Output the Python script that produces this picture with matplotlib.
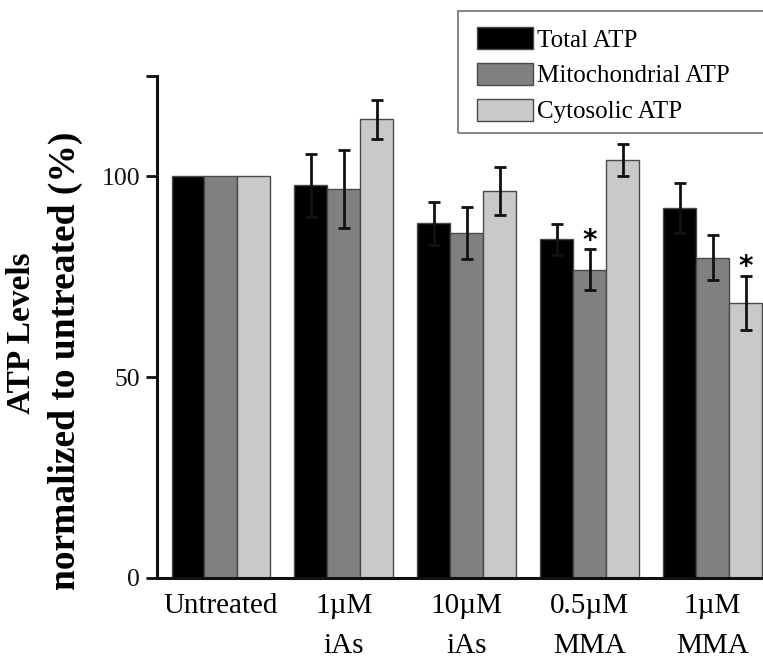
import matplotlib
matplotlib.use('Agg')
import matplotlib.pyplot as plt
import numpy as np
from matplotlib.patches import Rectangle

plt.rcParams['font.family'] = ['Liberation Serif', 'DejaVu Serif']

groups = ['Untreated', '1µM\niAs', '10µM\niAs', '0.5µM\nMMA', '1µM\nMMA']
series = ['Total ATP', 'Mitochondrial ATP', 'Cytosolic ATP']
total_atp = [100, 97.8, 88.3, 84.3, 92.2]
total_err = [0, 7.9, 5.3, 3.8, 6.2]
mito_atp = [100, 96.9, 86.0, 76.8, 79.7]
mito_err = [0, 9.7, 6.5, 5.0, 5.6]
cyto_atp = [100, 114.2, 96.3, 104.1, 68.5]
cyto_err = [0, 4.8, 6.0, 4.0, 6.7]
# (group index, series index) marked significant
signif = [(3, 1), (4, 2)]

colors = ['#000000', '#808080', '#c9c9c9']
width = 0.268

W, H = 763, 662
fig = plt.figure(figsize=(W / 100, H / 100), dpi=100)
ax = fig.add_axes([157 / W, 1 - 578 / H, 1 - 157 / W, (578 - 76) / H])

x = np.arange(len(groups))
values = [total_atp, mito_atp, cyto_atp]
errors = [total_err, mito_err, cyto_err]
bars = []
for k in range(3):
    pos = x + (k - 1) * width
    b = ax.bar(pos, values[k], width, color=colors[k], edgecolor='#4a4a4a',
               linewidth=1.0, label=series[k], zorder=2)
    bars.append(b)
    err = np.array(errors[k], dtype=float)
    mask = err > 0
    ax.errorbar(pos[mask], np.array(values[k])[mask], yerr=err[mask], fmt='none',
                ecolor='#111111', elinewidth=2.0, capsize=4.3, capthick=2.0, zorder=3)

for g, s in signif:
    xs = x[g] + (s - 1) * width
    top = values[s][g] + errors[s][g]
    ax.text(xs, top + 0.2, '*', ha='center', va='baseline', fontsize=20,
            fontweight='bold', family='DejaVu Sans')

ax.set_xlim(-0.52, 4.41)
ax.set_ylim(0, 125)
ax.set_yticks([0, 50, 100])
ax.set_yticks([125], minor=True)
ax.set_xticks(x)
ax.set_xticklabels(groups, fontsize=21, linespacing=1.68)
ax.tick_params(axis='x', length=0, pad=11)
ax.tick_params(axis='y', which='both', length=8, width=2, direction='out',
               labelsize=18.5, pad=4, colors='#111111')
for side in ['top', 'right']:
    ax.spines[side].set_visible(False)
for side in ['left', 'bottom']:
    ax.spines[side].set_linewidth(2.2)
    ax.spines[side].set_color('#111111')

fig.text(22 / W, 1 - 333 / H, 'ATP Levels', rotation=90, ha='center', va='center',
         fontsize=24, fontweight='bold')
fig.text(65 / W, 1 - 361 / H, 'normalized to untreated (%)', rotation=90,
         ha='center', va='center', fontsize=27, fontweight='bold')

# legend box
fig.patches.append(Rectangle((458 / W, 1 - 133 / H), (320) / W, (122) / H,
                             transform=fig.transFigure, fill=False,
                             edgecolor='#7a7a7a', linewidth=1.3))
leg = fig.legend(handles=bars, labels=series, loc='upper left',
                 bbox_to_anchor=(472 / W, 1 - 22 / H), frameon=False,
                 fontsize=18, handlelength=2.24, handleheight=1.0,
                 handletextpad=0.16, labelspacing=0.44, borderpad=0.2,
                 borderaxespad=0)

fig.savefig('out.png', dpi=100)
